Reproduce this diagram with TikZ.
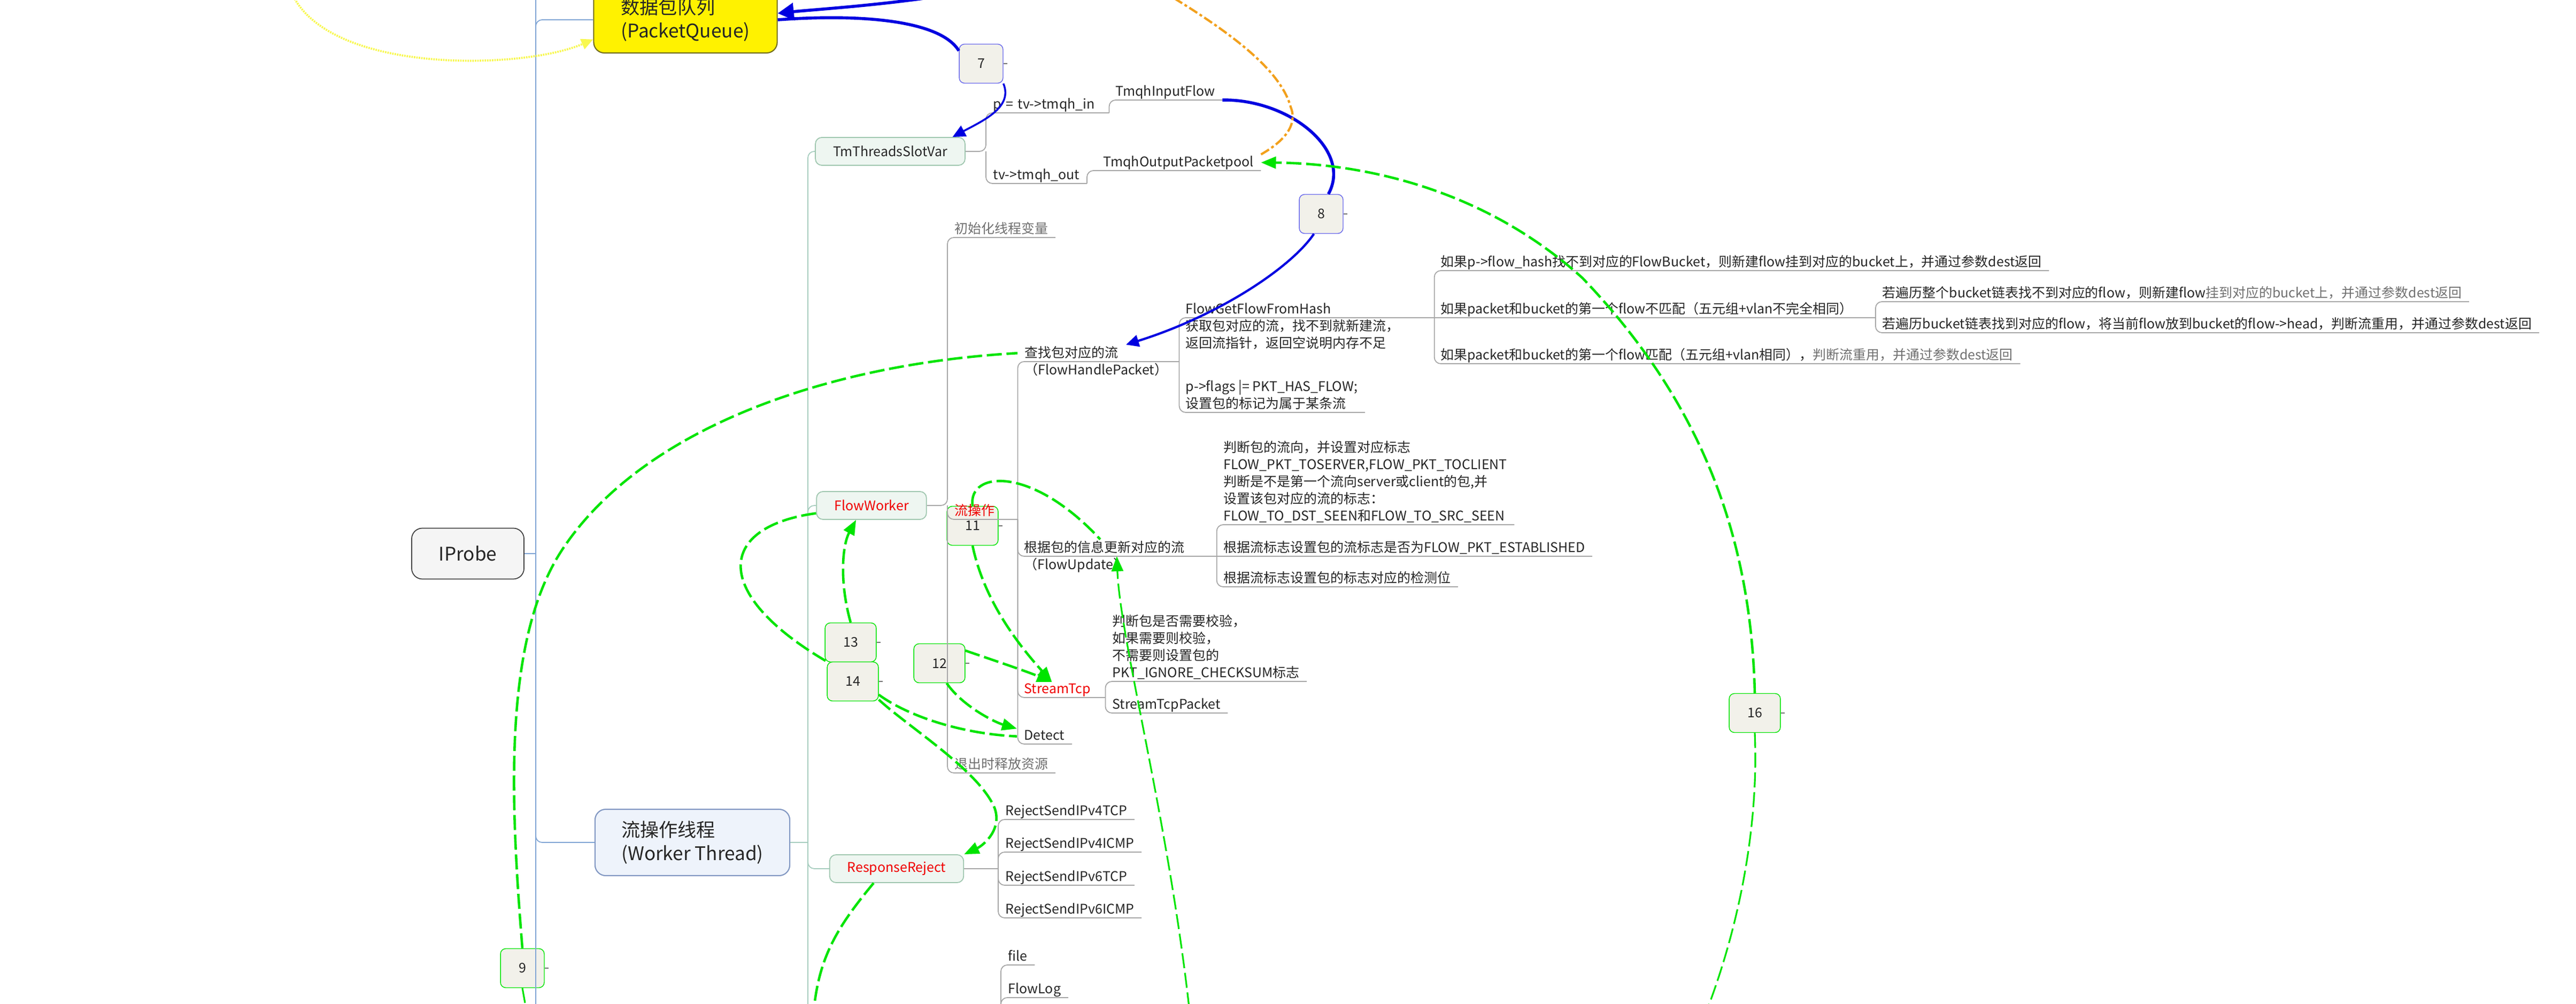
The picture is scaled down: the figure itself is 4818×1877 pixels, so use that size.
\documentclass[tikz,border=0pt]{standalone}
\usepackage{fontspec}
\setmainfont{Noto Sans CJK SC}
\usetikzlibrary{arrows.meta}
\definecolor{relgreen}{HTML}{00E400}
\definecolor{relblue}{HTML}{0000E0}
\definecolor{relorange}{HTML}{F2A01C}
\definecolor{relyellow}{HTML}{F8F850}
\definecolor{topicred}{HTML}{F00000}
\definecolor{numfill}{HTML}{F2F1EA}
\definecolor{subfill}{HTML}{EEF6F1}
\definecolor{subdraw}{HTML}{9EC6AE}
\definecolor{wtfill}{HTML}{EEF3FB}
\definecolor{wtdraw}{HTML}{8197C2}
\definecolor{linegray}{HTML}{A6A6A6}
\definecolor{rootblue}{HTML}{7FA4D4}
\definecolor{trunkgreen}{HTML}{A6CDBE}
\definecolor{notegray}{HTML}{707070}
\tikzset{
  every node/.style={font=\fontsize{7.1pt}{9.1pt}\selectfont, text=black!85},
  leaf/.style={anchor=south west, align=left, inner xsep=0.13cm, inner ysep=0.02cm, text depth=0.05cm},
  topic/.style={draw=subdraw, fill=subfill, rounded corners=0.12cm, line width=0.5pt, minimum height=0.52cm, inner xsep=0.33cm},
  bigbox/.style={rounded corners=0.2cm, align=left, minimum height=1.24cm, line width=0.6pt, font=\fontsize{10pt}{12.6pt}\selectfont},
  rootbox/.style={draw=black!75, fill=black!4, rounded corners=0.2cm, minimum width=2.1cm, minimum height=0.95cm, line width=0.5pt, font=\fontsize{10pt}{12pt}\selectfont},
  numbox/.style={draw=relgreen, fill=numfill, rounded corners=0.1cm, inner xsep=0.34cm, minimum height=0.73cm, line width=0.4pt},
  rootline/.style={draw=rootblue, line width=0.5pt},
  mainline/.style={draw=trunkgreen, line width=0.5pt},
  twig/.style={draw=linegray, line width=0.5pt},
  grel/.style={draw=relgreen, line width=1.3pt, dash pattern=on 8pt off 2.5pt},
  gthin/.style={grel, line width=0.9pt},
  gtip/.style={-{Triangle[length=0.28cm,width=0.22cm]}},
  brel/.style={draw=relblue, line width=1.6pt},
  btip/.style={-{Triangle[length=0.24cm,width=0.22cm]}},
  orel/.style={draw=relorange, line width=1.2pt, dash pattern=on 5pt off 1.5pt on 1.5pt off 1.5pt},
  yrel/.style={draw=relyellow, line width=1.1pt, dash pattern=on 0.8pt off 0.5pt, -{Triangle[length=0.22cm,width=0.2cm]}}
}
\begin{document}
\begin{tikzpicture}[x=0.01cm, y=-0.01cm]
\path[use as bounding box, fill=white] (0,0) rectangle (4818,1877);

\node[rootbox] (iprobe) at (875,1035) {IProbe};
\node[bigbox, fill=yellow, draw=olive!75!black, minimum width=3.43cm] (pq) at (1282,37) {数据包队列\\(PacketQueue)};
\node[bigbox, fill=wtfill, draw=wtdraw, minimum width=3.64cm] (wt) at (1295,1575) {流操作线程\\(Worker Thread)};
\node[topic] (tsv) at (1665,283) {TmThreadsSlotVar};
\node[topic, text=topicred] (fw) at (1630,945) {FlowWorker};
\node[topic, text=topicred] (rr) at (1677,1624) {ResponseReject};

\node[numbox, draw=relblue!60] (n7) at (1835,119) {7};
\node[numbox, draw=relblue!60] (n8) at (2471,400) {8};
\node[numbox] (n9) at (977,1810) {9};
\node[numbox] (n11) at (1819,983) {11};
\node[numbox] (n12) at (1757,1240) {12};
\node[numbox] (n13) at (1591,1201) {13};
\node[numbox] (n14) at (1595,1274) {14};
\node[numbox] (n16) at (3282,1333) {16};
\foreach \n in {n7,n8,n9,n11,n12,n13,n14,n16}
  \draw[black!55, line width=0.4pt] (\n.east) -- ++(7,0);

\node[leaf, text width=2.03cm] (tmqhin) at (1844,211) {p = tv->tmqh\_in};
\node[leaf] (tmqhout) at (1844,343) {tv->tmqh\_out};
\node[leaf] (tif) at (2073,187) {TmqhInputFlow};
\node[leaf] (topp) at (2050,319) {TmqhOutputPacketpool};
\node[leaf, text=notegray] (init) at (1772,444) {初始化线程变量};
\node[leaf, text=topicred, text width=1.04cm] (flowop) at (1772,971) {流操作};
\node[leaf, text=notegray] (exit) at (1772,1445) {退出时释放资源};
\node[leaf, text width=2.75cm] (fhp) at (1903,676) {查找包对应的流\\（FlowHandlePacket）};
\node[leaf, text width=4.51cm] (fgh) at (2204,594) {FlowGetFlowFromHash\\获取包对应的流，找不到就新建流，\\返回流指针，返回空说明内存不足};
\node[leaf] (flags) at (2204,771) {p->flags |= PKT\_HAS\_FLOW;\\设置包的标记为属于某条流};
\node[leaf] (nobucket) at (2681,506) {如果p->flow\_hash找不到对应的FlowBucket，则新建flow挂到对应的bucket上，并通过参数dest返回};
\node[leaf, text width=7.99cm] (mismatch) at (2681,594) {如果packet和bucket的第一个flow不匹配（五元组+vlan不完全相同）};
\node[leaf] (match) at (2681,680) {如果packet和bucket的第一个flow匹配（五元组+vlan相同），\textcolor{notegray}{判断流重用，并通过参数dest返回}};
\node[leaf] (walknf) at (3507,564) {若遍历整个bucket链表找不到对应的flow，则新建flow\textcolor{notegray}{挂到对应的bucket上，并通过参数dest返回}};
\node[leaf] (walkf) at (3507,622) {若遍历bucket链表找到对应的flow，将当前flow放到bucket的flow->head，判断流重用，并通过参数dest返回};
\node[leaf, text width=3.46cm] (fu) at (1902,1040) {根据包的信息更新对应的流\\（FlowUpdate）};
\node[leaf] (dir) at (2275,981) {判断包的流向，并设置对应标志\\FLOW\_PKT\_TOSERVER,FLOW\_PKT\_TOCLIENT\\判断是不是第一个流向server或client的包,并\\设置该包对应的流的标志：\\FLOW\_TO\_DST\_SEEN和FLOW\_TO\_SRC\_SEEN};
\node[leaf] (est) at (2275,1040) {根据流标志设置包的流标志是否为FLOW\_PKT\_ESTABLISHED};
\node[leaf] (detbit) at (2275,1097) {根据流标志设置包的标志对应的检测位};
\node[leaf, text=topicred, text width=1.38cm] (stcp) at (1902,1304) {StreamTcp};
\node[leaf] (chk) at (2067,1274) {判断包是否需要校验，\\如果需要则校验，\\不需要则设置包的\\PKT\_IGNORE\_CHECKSUM标志};
\node[leaf] (stp) at (2067,1333) {StreamTcpPacket};
\node[leaf] (detect) at (1902,1391) {Detect};
\foreach \y/\txt in {1532/IPv4TCP, 1593/IPv4ICMP, 1655/IPv6TCP, 1716/IPv6ICMP}
  \node[leaf] (rej\txt) at (1867,\y) {RejectSend\txt};
\node[leaf] (file) at (1872,1804) {file};
\node[leaf] (flowlog) at (1872,1865) {FlowLog};

\begin{scope}[rounded corners=0.12cm]
\coordinate (rtop) at (1002,-40);
\coordinate (rbot) at (1002,1920);
\draw[rootline] (iprobe.east) -- (iprobe.east -| rtop);
\draw[rootline] (rtop) -- (rbot);
\draw[rootline] (iprobe.east -| rtop) |- (pq.west);
\draw[rootline] (iprobe.east -| rtop) |- (wt.west);
\coordinate (wbot) at (1511,1920);
\draw[mainline] (wt.east) -- (wt.east -| wbot);
\draw[mainline] (wt.east -| wbot) |- (tsv.west);
\draw[mainline] (wt.east -| wbot) |- (fw.west);
\draw[mainline] (wt.east -| wbot) |- (rr.west);
\draw[mainline] (wt.east -| wbot) -- (wbot);
\draw[twig] (tsv.east) -- (tsv.east -| tmqhin.south west) |- (tmqhin.south east);
\draw[twig] (tsv.east -| tmqhin.south west) |- (tmqhout.south east);
\draw[twig] (tmqhin.south east) |- (tif.south east);
\draw[twig] (tmqhout.south east) |- (topp.south east);
\draw[twig] (fw.east) -- (fw.east -| init.south west) |- (init.south east);
\draw[twig] (fw.east -| init.south west) |- (flowop.south east);
\draw[twig] (fw.east -| init.south west) |- (exit.south east);
\draw[twig] (flowop.south east) |- (fhp.south east);
\draw[twig] (flowop.south east) |- (fu.south east);
\draw[twig] (flowop.south east) |- (stcp.south east);
\draw[twig] (flowop.south east) |- (detect.south east);
\draw[twig] (fhp.south east) |- (fgh.south east);
\draw[twig] (fhp.south east) |- (flags.south east);
\draw[twig] (fgh.south east) |- (nobucket.south east);
\draw[twig] (fgh.south east) -- (mismatch.south east);
\draw[twig] (fgh.south east) |- (match.south east);
\draw[twig] (mismatch.south east) |- (walknf.south east);
\draw[twig] (mismatch.south east) |- (walkf.south east);
\draw[twig] (fu.south east) |- (dir.south east);
\draw[twig] (fu.south east) -- (est.south east);
\draw[twig] (fu.south east) |- (detbit.south east);
\draw[twig] (stcp.south east) |- (chk.south east);
\draw[twig] (stcp.south east) |- (stp.south east);
\draw[twig] (rr.east) -- (rr.east -| rejIPv4TCP.south west);
\foreach \txt in {IPv4TCP,IPv4ICMP,IPv6TCP,IPv6ICMP}
  \draw[twig] (rr.east -| rejIPv4TCP.south west) |- (rej\txt.south east);
\coordinate (lbot) at (1872,1920);
\draw[twig] (lbot) |- (file.south east);
\draw[twig] (lbot) |- (flowlog.south east);
\end{scope}

\begin{scope}
\coordinate (ytail) at (547,-10);
\coordinate (btail) at (1775,-10);
\coordinate (otail) at (2185,-10);
\draw[yrel] (ytail) .. controls (620,140) and (980,130) .. (pq.192);
\draw[brel, -{Triangle[length=0.3cm,width=0.32cm]}] (btail) .. controls (1650,10) and (1520,18) .. (pq.4);
\draw[brel] (pq.east) .. controls (1620,25) and (1760,40) .. (n7.150);
\draw[brel, line width=1pt, btip] (n7.south east) .. controls (1895,200) and (1840,225) .. (tsv.13);
\draw[brel] (tif.south east) .. controls (2410,185) and (2530,280) .. (n8.70);
\draw[brel, line width=1.2pt, btip] (n8.250) .. controls (2415,500) and (2280,590) .. (fhp.17);
\draw[orel] (topp.north east) .. controls (2400,265) and (2428,235) .. (2414,200) .. controls (2395,130) and (2300,60) .. (otail);
\end{scope}

\begin{scope}
\coordinate (g9end) at (990,1920);
\coordinate (g16end) at (3180,1920);
\coordinate (grrend) at (1520,1920);
\coordinate (gfuend) at (2228,1920);
\draw[grel, gtip] (n16.north) .. controls (3275,1000) and (3180,750) .. (2960,520) .. controls (2750,330) and (2500,305) .. (topp.east);
\draw[gthin] (n16.south) .. controls (3290,1550) and (3250,1750) .. (g16end);
\draw[grel] (n9.north) .. controls (955,1500) and (940,1200) .. (1050,1030) .. controls (1200,800) and (1550,680) .. (fhp.west);
\draw[gthin] (n9.south) -- (g9end);
\draw[grel] (fw.188) .. controls (1340,985) and (1330,1110) .. (n14.north west);
\draw[grel] (n14.-27) .. controls (1700,1340) and (1800,1372) .. (detect.west);
\draw[grel, gtip] (n13.north) .. controls (1570,1090) and (1575,1020) .. (fw.223);
\draw[grel, gtip] (n14.-35) .. controls (1700,1360) and (1830,1440) .. (1860,1510) .. controls (1875,1550) and (1840,1580) .. (rr.12);
\draw[grel] (rr.212) .. controls (1560,1740) and (1525,1800) .. (grrend);
\draw[grel] (n11.north) .. controls (1810,880) and (1930,870) .. (fu.153);
\draw[grel, gtip] (n11.south) .. controls (1840,1120) and (1900,1200) .. (stcp.140);
\draw[grel, gtip] (n12.26) .. controls (1860,1235) and (1920,1255) .. (stcp.140);
\draw[grel, gtip] (n12.-70) .. controls (1800,1320) and (1860,1350) .. (detect.north west);
\draw[gthin, gtip] (gfuend) .. controls (2190,1550) and (2095,1200) .. (fu.south);
\end{scope}
\end{tikzpicture}
\end{document}
